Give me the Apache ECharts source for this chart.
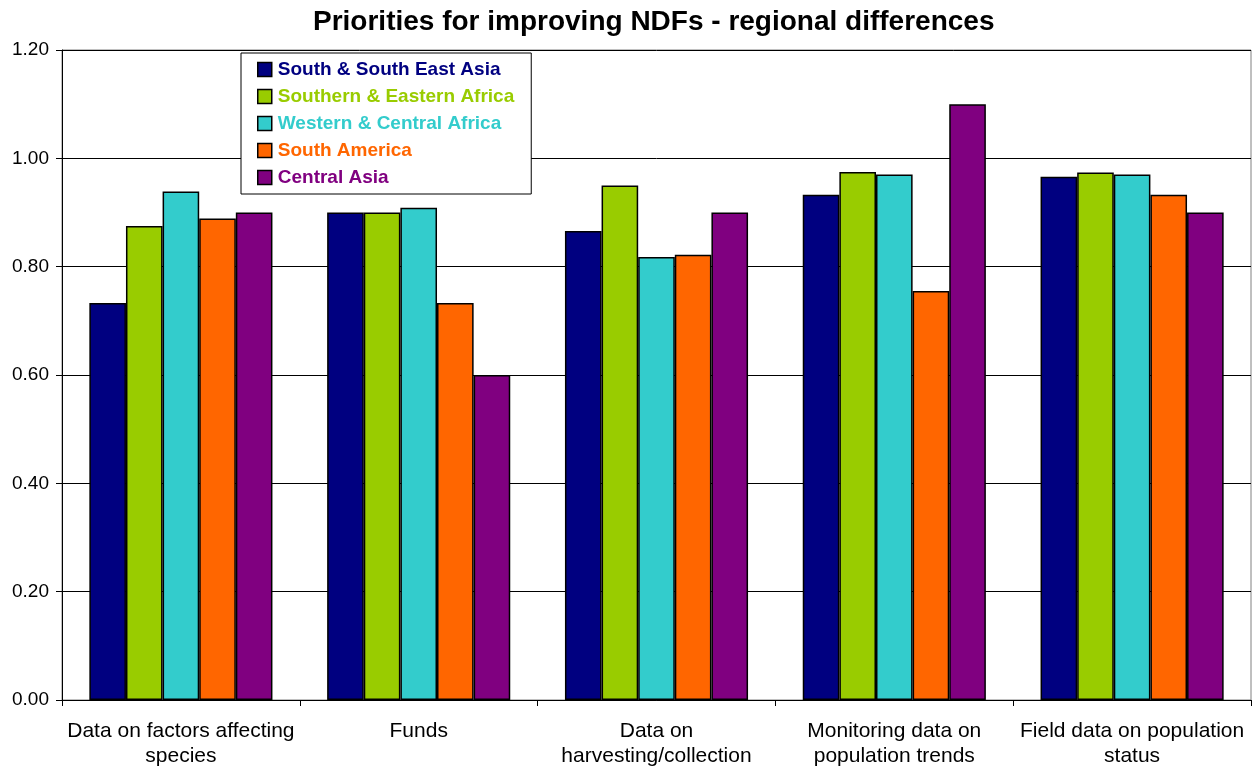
<!DOCTYPE html>
<html><head><meta charset="utf-8">
<script src="https://cdn.jsdelivr.net/npm/echarts@6/dist/echarts.min.js"></script>
<style>html,body{margin:0;padding:0;background:#fff}#c{width:1259px;height:771px}</style>
</head><body><div id="c"></div>
<script>
const categories = ["Data on factors affecting\nspecies", "Funds", "Data on\nharvesting/collection", "Monitoring data on\npopulation trends", "Field data on population\nstatus"];
const seriesNames = ["South & South East Asia", "Southern & Eastern Africa", "Western & Central Africa", "South America", "Central Asia"];
const seriesColors = ["#000080", "#99CC00", "#33CCCC", "#FF6600", "#800080"];
const ssea = [0.733, 0.900, 0.866, 0.933, 0.966];
const sea  = [0.875, 0.900, 0.950, 0.975, 0.974];
const wca  = [0.939, 0.909, 0.818, 0.970, 0.970];
const sam  = [0.889, 0.733, 0.822, 0.755, 0.933];
const cas  = [0.900, 0.600, 0.900, 1.100, 0.900];
const seriesValues = [ssea, sea, wca, sam, cas];

const chart = echarts.init(document.getElementById('c'));
chart.setOption({
  animation: false,
  backgroundColor: '#fff',
  title: {
    text: 'Priorities for improving NDFs - regional differences',
    left: 308, top: 3,
    textStyle: { fontFamily: 'Liberation Sans, Arial', fontWeight: 'bold', fontSize: 28, color: '#000' }
  },
  legend: {
    orient: 'vertical', left: 241, top: 53,
    backgroundColor: '#fff', borderColor: '#000', borderWidth: 1,
    padding: [7, 17, 7, 16],
    itemWidth: 14, itemHeight: 14, itemGap: 8,
    icon: 'rect',
    itemStyle: { borderColor: '#000', borderWidth: 1.5 },
    data: seriesNames.map((n, i) => ({ name: n, textStyle: { color: seriesColors[i] } })),
    textStyle: { fontFamily: 'Liberation Sans, Arial', fontWeight: 'bold', fontSize: 19, lineHeight: 19, padding: [0, 0, 0, 1] }
  },
  grid: { left: 62, right: 8, top: 50, bottom: 71, containLabel: false,
    show: true, borderColor: '#808080', borderWidth: 1 },
  xAxis: {
    type: 'category', data: categories,
    axisLine: { lineStyle: { color: '#000', width: 1 } },
    axisTick: { show: true, length: 6, lineStyle: { color: '#000' } },
    axisLabel: { fontFamily: 'Liberation Sans, Arial', fontSize: 21, color: '#000', lineHeight: 25, margin: 19, interval: 0 }
  },
  yAxis: {
    type: 'value', min: 0, max: 1.2, interval: 0.2,
    axisLine: { show: true, lineStyle: { color: '#000' } },
    axisTick: { show: true, length: 6, lineStyle: { color: '#000' } },
    splitLine: { lineStyle: { color: '#000', width: 1 } },
    axisLabel: { fontFamily: 'Liberation Sans, Arial', fontSize: 19, color: '#000', margin: 13,
      formatter: v => v.toFixed(2) }
  },
  series: seriesNames.map((n, i) => ({
    name: n, type: 'bar', data: seriesValues[i],
    barGap: '0%', barCategoryGap: '23%',
    itemStyle: { color: seriesColors[i], borderColor: '#000', borderWidth: 1.5 }
  }))
});
</script></body></html>
